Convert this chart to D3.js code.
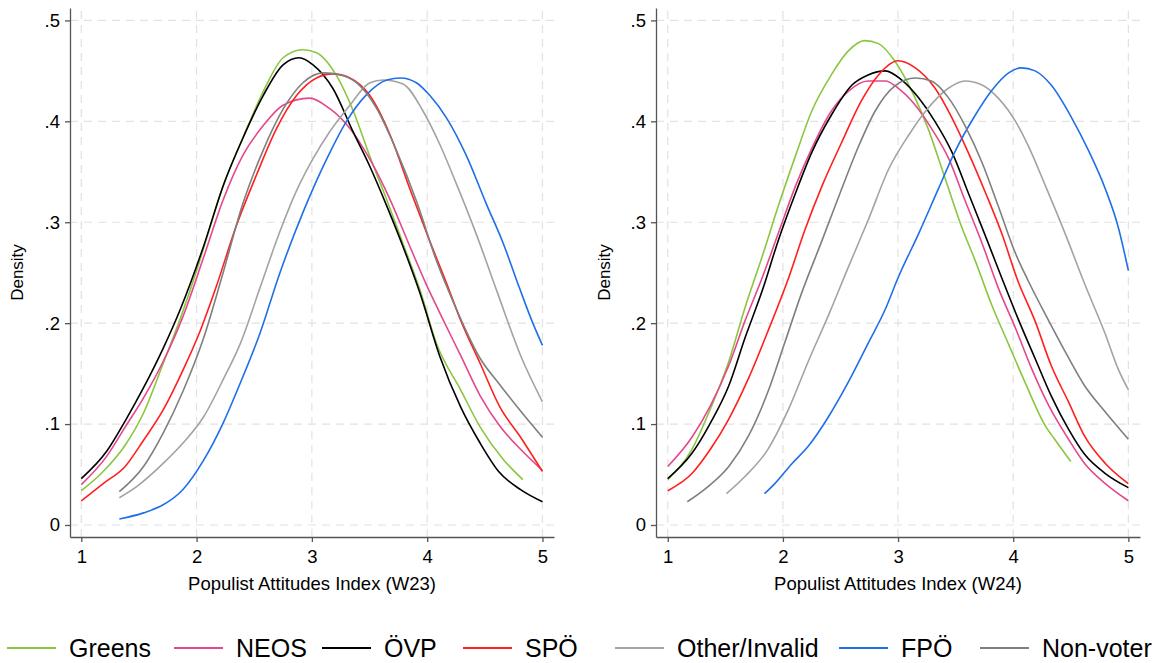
<!DOCTYPE html>
<html>
<head>
<meta charset="utf-8">
<script src="https://cdn.jsdelivr.net/npm/d3@7"></script>
<style>
  html, body { margin: 0; padding: 0; background: #fff; }
  svg { display: block; }
  text { font-family: "Liberation Sans", Arial, Helvetica, sans-serif; fill: #000; }
</style>
</head>
<body>
<svg id="chart" width="1156" height="663"></svg>
<script>
// ---------------- DATA ----------------
const seriesNames = ["Greens", "NEOS", "ÖVP", "SPÖ", "Other/Invalid", "FPÖ", "Non-voter"];
const seriesColors = ["#8cc640", "#e4488c", "#000000", "#ff1f1f", "#a3a3a3", "#1f6fe8", "#7f7f7f"];
const xTicks = [1, 2, 3, 4, 5];
const yTicks = [0, 0.1, 0.2, 0.3, 0.4, 0.5];
const yTickLabels = ["0", ".1", ".2", ".3", ".4", ".5"];
const panelTitles = ["Populist Attitudes Index (W23)", "Populist Attitudes Index (W24)"];
const yTitle = "Density";

// W23 densities [x, density]
const greensW23 = [[1.0,.034],[1.19,.053],[1.38,.079],[1.54,.111],[1.71,.160],[1.86,.205],[2.0,.252],[2.06,.274],[2.23,.336],[2.40,.383],[2.58,.430],[2.75,.463],[2.92,.471],[3.04,.468],[3.21,.446],[3.36,.410],[3.50,.366],[3.65,.322],[3.79,.279],[3.94,.232],[4.08,.180],[4.29,.134],[4.46,.097],[4.66,.065],[4.83,.045]];
const neosW23 = [[1.0,.040],[1.22,.068],[1.38,.097],[1.54,.126],[1.71,.162],[1.88,.206],[2.06,.265],[2.23,.322],[2.40,.366],[2.58,.396],[2.75,.416],[2.98,.423],[3.15,.413],[3.33,.393],[3.50,.363],[3.68,.322],[3.85,.276],[3.99,.239],[4.11,.210],[4.29,.168],[4.46,.128],[4.63,.098],[4.81,.075],[5.0,.054]];
const oevpW23 = [[1.0,.046],[1.22,.073],[1.38,.103],[1.54,.136],[1.71,.175],[1.86,.214],[2.06,.276],[2.23,.336],[2.40,.383],[2.58,.426],[2.75,.456],[2.89,.463],[3.01,.456],[3.18,.433],[3.36,.389],[3.50,.356],[3.65,.316],[3.79,.276],[3.94,.229],[4.11,.167],[4.29,.117],[4.46,.081],[4.62,.053],[4.81,.035],[5.0,.023]];
const spoeW23 = [[1.0,.024],[1.19,.041],[1.38,.058],[1.54,.084],[1.71,.114],[1.88,.153],[2.03,.192],[2.17,.236],[2.34,.295],[2.52,.347],[2.69,.392],[2.87,.426],[3.04,.443],[3.18,.447],[3.33,.443],[3.50,.426],[3.68,.386],[3.85,.333],[4.02,.282],[4.17,.239],[4.29,.203],[4.46,.160],[4.63,.117],[4.81,.087],[5.0,.053]];
const otherW23 = [[1.33,.027],[1.48,.038],[1.71,.061],[1.88,.081],[2.06,.107],[2.23,.144],[2.38,.180],[2.55,.235],[2.72,.290],[2.87,.332],[3.01,.363],[3.15,.389],[3.33,.416],[3.50,.438],[3.62,.441],[3.79,.437],[3.96,.411],[4.11,.377],[4.25,.339],[4.43,.287],[4.61,.230],[4.81,.168],[5.0,.122]];
const fpoeW23 = [[1.33,.006],[1.54,.012],[1.71,.020],[1.88,.035],[2.06,.064],[2.23,.101],[2.38,.141],[2.55,.190],[2.72,.249],[2.92,.309],[3.13,.363],[3.30,.400],[3.47,.426],[3.65,.441],[3.77,.443],[3.91,.438],[4.02,.426],[4.17,.403],[4.34,.366],[4.51,.319],[4.66,.279],[4.80,.235],[4.92,.199],[5.0,.178]];
const nonvoterW23 = [[1.33,.033],[1.54,.058],[1.71,.091],[1.88,.132],[2.06,.185],[2.23,.250],[2.40,.318],[2.58,.372],[2.75,.412],[2.92,.438],[3.10,.448],[3.25,.446],[3.39,.438],[3.56,.413],[3.73,.372],[3.91,.320],[4.08,.262],[4.23,.220],[4.46,.165],[4.63,.139],[4.81,.113],[5.0,.087]];

// W24 densities [x, density]
const greensW24 = [[1.0,.045],[1.21,.075],[1.37,.115],[1.53,.162],[1.67,.215],[1.82,.266],[1.96,.316],[2.11,.366],[2.25,.410],[2.42,.446],[2.57,.470],[2.71,.480],[2.83,.477],[2.97,.460],[3.12,.430],[3.26,.393],[3.41,.343],[3.55,.296],[3.67,.262],[3.81,.219],[3.96,.179],[4.10,.142],[4.28,.098],[4.36,.085],[4.50,.063]];
const neosW24 = [[1.0,.058],[1.21,.087],[1.37,.118],[1.53,.158],[1.67,.202],[1.82,.245],[1.96,.289],[2.11,.336],[2.25,.373],[2.42,.410],[2.57,.430],[2.74,.440],[2.89,.440],[3.0,.433],[3.15,.416],[3.29,.393],[3.44,.363],[3.58,.322],[3.73,.279],[3.87,.235],[4.02,.195],[4.16,.155],[4.31,.118],[4.48,.085],[4.62,.061],[4.80,.041],[5.0,.024]];
const oevpW24 = [[1.0,.046],[1.21,.071],[1.37,.101],[1.53,.138],[1.67,.185],[1.82,.232],[1.96,.282],[2.11,.329],[2.25,.369],[2.42,.406],[2.60,.436],[2.74,.446],[2.89,.450],[3.03,.441],[3.18,.423],[3.32,.400],[3.47,.369],[3.61,.329],[3.76,.286],[3.90,.245],[4.04,.205],[4.19,.165],[4.33,.128],[4.48,.095],[4.62,.070],[4.80,.051],[5.0,.037]];
const spoeW24 = [[1.0,.034],[1.21,.051],[1.37,.075],[1.53,.105],[1.70,.145],[1.87,.192],[2.05,.245],[2.19,.292],[2.34,.336],[2.51,.379],[2.68,.420],[2.83,.446],[3.0,.460],[3.15,.453],[3.32,.433],[3.47,.403],[3.61,.369],[3.76,.329],[3.90,.289],[4.04,.242],[4.19,.202],[4.33,.158],[4.48,.122],[4.62,.088],[4.80,.061],[5.0,.041]];
const otherW24 = [[1.51,.031],[1.67,.048],[1.87,.075],[2.05,.115],[2.22,.162],[2.40,.209],[2.57,.256],[2.74,.302],[2.92,.353],[3.09,.386],[3.26,.413],[3.44,.433],[3.58,.440],[3.73,.436],[3.87,.423],[4.02,.400],[4.13,.376],[4.28,.336],[4.45,.289],[4.62,.239],[4.80,.189],[4.91,.155],[5.0,.134]];
const fpoeW24 = [[1.84,.031],[1.93,.041],[2.08,.061],[2.22,.078],[2.40,.108],[2.57,.142],[2.74,.180],[2.89,.214],[3.0,.245],[3.18,.289],[3.35,.333],[3.49,.369],[3.67,.406],[3.81,.430],[3.96,.448],[4.07,.453],[4.19,.450],[4.33,.436],[4.51,.403],[4.65,.372],[4.80,.333],[4.91,.296],[5.0,.252]];
const nonvoterW24 = [[1.17,.023],[1.35,.038],[1.53,.058],[1.70,.088],[1.87,.132],[2.02,.182],[2.16,.229],[2.34,.282],[2.51,.333],[2.66,.376],[2.80,.410],[2.97,.435],[3.15,.443],[3.29,.440],[3.44,.423],[3.58,.396],[3.73,.359],[3.87,.316],[4.02,.269],[4.13,.242],[4.31,.202],[4.45,.172],[4.62,.138],[4.80,.112],[5.0,.085]];

const panelSeries = [
  [greensW23, neosW23, oevpW23, spoeW23, otherW23, fpoeW23, nonvoterW23],
  [greensW24, neosW24, oevpW24, spoeW24, otherW24, fpoeW24, nonvoterW24]
];

// ---------------- LAYOUT ----------------
const svg = d3.select("#chart");
const panels = [
  { x0: 70, x1: 554, xDom: [0.902, 5.1], titleX: 23 },
  { x0: 656, x1: 1140, xDom: [0.898, 5.101], titleX: 610 }
];
const yTop = 8, yBottom = 537;
const axisColor = "#555";
const gridColor = "#e2e2e2";

panels.forEach((p, i) => {
  const x = d3.scaleLinear().domain(p.xDom).range([p.x0, p.x1]);
  const y = d3.scaleLinear().domain([-0.0119, 0.5123]).range([yBottom, yTop]);
  const g = svg.append("g");

  // grid
  g.append("g").selectAll("line").data(yTicks).join("line")
    .attr("x1", p.x0).attr("x2", p.x1)
    .attr("y1", d => y(d)).attr("y2", d => y(d))
    .attr("stroke", gridColor).attr("stroke-width", 1.2).attr("stroke-dasharray", "8,6");
  g.append("g").selectAll("line").data(xTicks).join("line")
    .attr("x1", d => x(d)).attr("x2", d => x(d))
    .attr("y1", yBottom).attr("y2", yTop)
    .attr("stroke", gridColor).attr("stroke-width", 1.2).attr("stroke-dasharray", "8,6");

  // curves
  const line = d3.line().x(d => x(d[0])).y(d => y(d[1])).curve(d3.curveMonotoneX);
  panelSeries[i].forEach((s, k) => {
    g.append("path").datum(s).attr("d", line)
      .attr("fill", "none").attr("stroke", seriesColors[k]).attr("stroke-width", 1.6)
      .attr("stroke-linejoin", "round");
  });

  // axes
  const yAxis = d3.axisLeft(y).tickValues(yTicks).tickFormat((d, j) => yTickLabels[j])
    .tickSizeInner(5).tickSizeOuter(0).tickPadding(5);
  const ya = g.append("g").attr("transform", `translate(${p.x0},0)`).call(yAxis);
  const xAxis = d3.axisBottom(x).tickValues(xTicks).tickFormat(d3.format("d"))
    .tickSizeInner(5).tickSizeOuter(0).tickPadding(8);
  const xa = g.append("g").attr("transform", `translate(0,${yBottom})`).call(xAxis);
  [ya, xa].forEach(a => {
    a.select(".domain").attr("stroke", axisColor).attr("stroke-width", 1.3);
    a.selectAll(".tick line").attr("stroke", axisColor).attr("stroke-width", 1.3);
    a.selectAll(".tick text").attr("font-size", "18.5px")
      .attr("font-family", "'Liberation Sans', Arial, sans-serif").attr("fill", "#000");
  });

  // titles
  g.append("text").attr("x", (p.x0 + p.x1) / 2).attr("y", 590)
    .attr("text-anchor", "middle").attr("font-size", "18.5px").text(panelTitles[i]);
  g.append("text").attr("transform", `translate(${p.titleX},${(yTop + yBottom) / 2}) rotate(-90)`)
    .attr("text-anchor", "middle").attr("font-size", "17px").text(yTitle);
});

// ---------------- LEGEND ----------------
const legendX = [7, 174, 322, 463, 615, 839, 980];
const leg = svg.append("g");
seriesNames.forEach((name, k) => {
  const lx = legendX[k];
  leg.append("line").attr("x1", lx).attr("x2", lx + 49).attr("y1", 648).attr("y2", 648)
    .attr("stroke", seriesColors[k]).attr("stroke-width", 1.8);
  leg.append("text").attr("x", lx + 62).attr("y", 657).attr("font-size", "25px").text(name);
});
</script>
</body>
</html>
